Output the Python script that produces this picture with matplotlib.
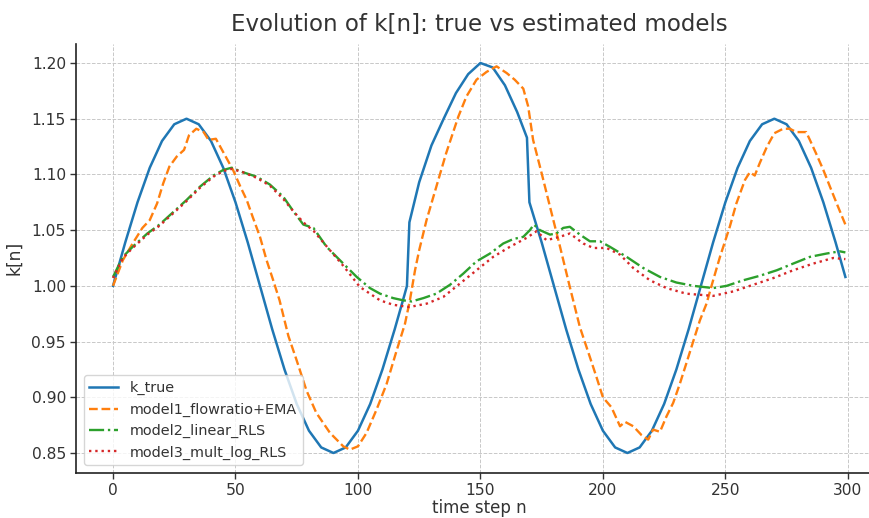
import matplotlib
matplotlib.use("Agg")
import matplotlib.pyplot as plt

# ---- data ----
n_true = [0, 5, 10, 15, 20, 25, 30, 35, 40, 45, 50, 55, 60, 65, 70, 75, 80, 85, 90, 95,
          100, 105, 110, 115, 119, 120, 121, 125, 130, 135, 140, 145, 150, 155, 160, 165,
          169, 170, 175, 180, 185, 190, 195, 200, 205, 210, 215, 220, 225, 230, 235, 240,
          245, 250, 255, 260, 265, 270, 275, 280, 285, 290, 295, 299]
k_true = [1.000, 1.039, 1.075, 1.106, 1.130, 1.145, 1.150, 1.145, 1.130, 1.106, 1.075,
          1.039, 1.000, 0.961, 0.925, 0.894, 0.870, 0.855, 0.850, 0.855, 0.870, 0.894,
          0.925, 0.961, 0.992, 1.000, 1.057, 1.093, 1.126, 1.150, 1.173, 1.190, 1.200,
          1.196, 1.180, 1.156, 1.133, 1.075, 1.039, 1.000, 0.961, 0.925, 0.894, 0.870,
          0.855, 0.850, 0.855, 0.870, 0.894, 0.925, 0.961, 1.000, 1.039, 1.075, 1.106,
          1.130, 1.145, 1.150, 1.145, 1.130, 1.106, 1.075, 1.039, 1.008]

n_m1 = [0, 4, 8, 12, 15, 18, 20.5, 23, 26, 29, 31, 34, 37, 39, 42, 45, 47, 49, 52, 54.6,
        57, 60, 62.7, 65.4, 68, 71.6, 75, 79, 83, 88.6, 94, 96.7, 100, 103.5, 107.6,
        111.7, 115.8, 119.2, 121.2, 123.3, 125, 128, 132, 136, 141, 144.3, 148.4, 152.5,
        156.6, 160.7, 164, 167.5, 169.5, 171.5, 175, 178.4, 182.4, 186.5, 190.6, 194.7,
        197.4, 200, 203.5, 207, 209, 212.4, 215.8, 218.5, 220.5, 223.3, 226, 228.7,
        231.4, 234, 237, 239.6, 242.3, 245, 247.8, 251.8, 254.5, 258, 260, 262, 264, 267,
        270, 273.6, 276.3, 279, 283, 284.5, 287, 290, 292.7, 296, 299]
k_model1 = [1.000, 1.023, 1.038, 1.052, 1.059, 1.074, 1.092, 1.107, 1.116, 1.122, 1.135,
            1.141, 1.138, 1.131, 1.132, 1.120, 1.112, 1.104, 1.089, 1.077, 1.062, 1.044,
            1.023, 1.005, 0.987, 0.955, 0.933, 0.906, 0.886, 0.868, 0.856, 0.853, 0.856,
            0.868, 0.889, 0.912, 0.942, 0.966, 0.987, 1.014, 1.032, 1.059, 1.089, 1.119,
            1.152, 1.170, 1.185, 1.192, 1.197, 1.191, 1.185, 1.177, 1.161, 1.131, 1.101,
            1.071, 1.036, 0.999, 0.963, 0.936, 0.918, 0.900, 0.891, 0.874, 0.878, 0.874,
            0.866, 0.862, 0.871, 0.869, 0.883, 0.895, 0.912, 0.930, 0.951, 0.969, 0.984,
            1.005, 1.026, 1.053, 1.074, 1.095, 1.102, 1.099, 1.110, 1.125, 1.137, 1.141,
            1.141, 1.138, 1.138, 1.131, 1.119, 1.104, 1.089, 1.071, 1.055]

n_m2 = [0, 4, 8, 14, 19, 25, 30, 35.5, 41, 45, 48.4, 53, 58.6, 64, 69.5, 73.6, 77.7, 81.8,
        87.2, 94, 99.5, 104.9, 109, 114.4, 118.5, 121.9, 126.7, 132, 137.6, 143, 148.4,
        153.9, 159.3, 163.4, 167.5, 170.2, 171.8, 174.3, 178.4, 181, 183.8, 186.5, 190.6,
        194.7, 198.8, 202.9, 209.7, 216.5, 223.3, 230, 237, 245, 250.5, 257.3, 264, 271,
        277.7, 284.5, 291.3, 296.7, 299]
k_model2 = [1.008, 1.026, 1.035, 1.047, 1.055, 1.067, 1.077, 1.089, 1.099, 1.104, 1.106,
            1.102, 1.098, 1.091, 1.080, 1.067, 1.055, 1.052, 1.035, 1.020, 1.008, 0.998,
            0.993, 0.989, 0.987, 0.986, 0.989, 0.993, 1.001, 1.011, 1.022, 1.029, 1.038,
            1.042, 1.044, 1.050, 1.055, 1.050, 1.046, 1.047, 1.052, 1.053, 1.046, 1.040,
            1.040, 1.035, 1.026, 1.016, 1.008, 1.003, 1.000, 0.998, 1.000, 1.005, 1.009,
            1.014, 1.020, 1.026, 1.029, 1.031, 1.030]

n_m3 = [0, 4, 8, 14, 19, 25, 30, 35.5, 41, 45, 48.4, 53, 58.6, 64, 69.5, 73.6, 77.7, 82,
        87, 94, 100.8, 109, 114.4, 121, 128, 134.8, 141.6, 148.4, 155.2, 162, 168.8,
        172.9, 177, 182.4, 186.5, 192, 196.1, 201.5, 207, 212.4, 219.2, 226, 234, 245,
        253.2, 261.4, 269.6, 277.7, 285.9, 294, 299]
k_model3 = [1.007, 1.025, 1.034, 1.046, 1.054, 1.066, 1.076, 1.088, 1.098, 1.103, 1.105,
            1.102, 1.097, 1.090, 1.078, 1.067, 1.057, 1.049, 1.036, 1.018, 0.999, 0.987,
            0.983, 0.981, 0.984, 0.990, 1.002, 1.014, 1.026, 1.035, 1.043, 1.049, 1.041,
            1.044, 1.047, 1.038, 1.034, 1.034, 1.028, 1.016, 1.005, 0.998, 0.993, 0.991,
            0.995, 1.001, 1.007, 1.014, 1.020, 1.025, 1.024]

labels = ["k_true", "model1_flowratio+EMA", "model2_linear_RLS", "model3_mult_log_RLS"]
title = "Evolution of k[n]: true vs estimated models"
xticks = [0, 50, 100, 150, 200, 250, 300]
yticks = [0.85, 0.90, 0.95, 1.00, 1.05, 1.10, 1.15, 1.20]

# ---- figure ----
W, H = 870, 518
fig = plt.figure(figsize=(W / 100, H / 100), dpi=100)
left, right, bottom, top = 76.4, 882.0, 45.5, 474.5
ax = fig.add_axes([left / W, bottom / H, (right - left) / W, (top - bottom) / H])

ax.plot(n_true, k_true, color="#1f77b4", lw=1.8, label=labels[0])
ax.plot(n_m1, k_model1, color="#ff7f0e", lw=1.7, ls=(0, (3.7, 1.6)), label=labels[1])
ax.plot(n_m2, k_model2, color="#2ca02c", lw=1.7, ls=(0, (6.4, 1.6, 1, 1.6)), label=labels[2])
ax.plot(n_m3, k_model3, color="#d62728", lw=1.7, ls=(0, (1, 1.65)), label=labels[3])

ax.set_xlim(-14.95, 313.95)
ax.set_ylim(0.8325, 1.2175)
ax.set_xticks(xticks)
ax.set_yticks(yticks)
ax.set_yticklabels([f"{v:.2f}" for v in yticks])

txt = "#333333"
ax.tick_params(axis="both", labelsize=11.2, colors="#333333", length=4, width=1)
for lab in ax.get_xticklabels() + ax.get_yticklabels():
    lab.set_color(txt)
ax.grid(True, ls="--", lw=0.7, color="#c8c8c8")
ax.set_axisbelow(True)
for s in ["top", "right"]:
    ax.spines[s].set_visible(False)
for s in ["left", "bottom"]:
    ax.spines[s].set_color("#222222")
    ax.spines[s].set_linewidth(1.2)

ax.set_title(title, fontsize=16.5, color=txt, pad=9)
ax.set_xlabel("time step n", fontsize=12.0, color=txt, labelpad=1)
ax.set_ylabel("k[n]", fontsize=12.3, color=txt, labelpad=6)

leg = ax.legend(loc="lower left", fontsize=10.4, frameon=True, framealpha=0.8,
                edgecolor="#cccccc", handlelength=2.0)
for t in leg.get_texts():
    t.set_color(txt)

fig.savefig("out.png", dpi=100)
